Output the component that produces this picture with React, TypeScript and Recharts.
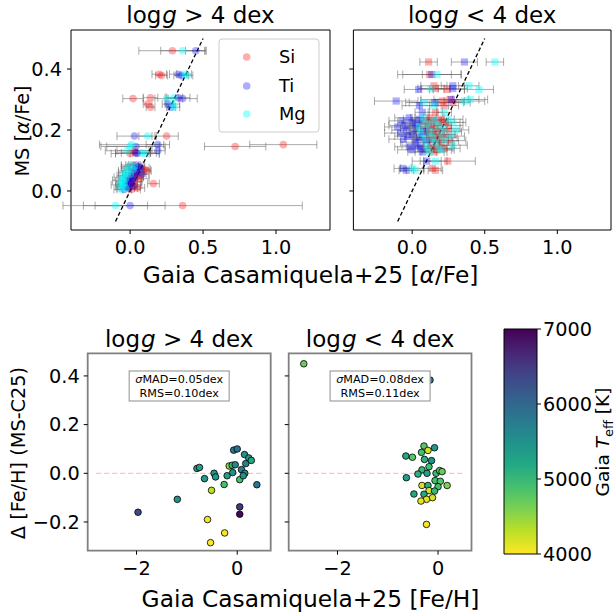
import React from 'react';
import { ScatterChart, Scatter, XAxis, YAxis, ErrorBar, ReferenceLine, ReferenceArea } from 'recharts';

// ---------- data ----------
// top panels: [MS alpha/Fe, Si, SiErr, Ti, TiErr, Mg, MgErr]
const dwarfStars: number[][] = [
  [0.46, 0.29, 0.23, 0.45, 0.07, 0.36, 0.15],
  [0.383, 0.2, 0.05, 0.33, 0.06, 0.37, 0.05],
  [0.379, 0.215, 0.04, 0.35, 0.05, 0.39, 0.04],
  [0.303, 0.02, 0.07, 0.36, 0.1, 0.25, 0.08],
  [0.306, 0.14, 0.05, 0.33, 0.08, 0.3, 0.06],
  [0.285, 0.12, 0.03, 0.26, 0.04, 0.29, 0.05],
  [0.275, 0.14, 0.03, 0.28, 0.03, 0.3, 0.04],
  [0.18, 0.25, 0.08, 0.03, 0.12, 0.12, 0.06],
  [0.146, 0.72, 0.21, 0.04, 0.2, 0.0, 0.2],
  [0.152, 1.05, 0.23, 0.19, 0.08, 0.01, 0.22],
  [0.132, 0.03, 0.12, 0.19, 0.05, -0.02, 0.15],
  [0.123, 0.0, 0.13, 0.05, 0.15, 0.1, 0.1],
  [0.125, 0.04, 0.1, 0.04, 0.14, 0.08, 0.06],
  [0.085, 0.02, 0.05, 0.04, 0.05, 0.0, 0.06],
  [0.08, 0.0, 0.06, 0.06, 0.04, 0.03, 0.05],
  [0.075, 0.05, 0.05, 0.07, 0.06, -0.01, 0.05],
  [0.07, 0.1, 0.04, 0.04, 0.05, 0.02, 0.06],
  [0.066, 0.115, 0.03, 0.01, 0.06, -0.03, 0.05],
  [0.06, 0.03, 0.06, 0.05, 0.05, -0.02, 0.06],
  [0.055, 0.06, 0.05, 0.08, 0.05, 0.0, 0.05],
  [0.05, -0.01, 0.06, 0.03, 0.06, -0.04, 0.05],
  [0.045, 0.04, 0.05, 0.0, 0.05, -0.05, 0.06],
  [0.04, 0.07, 0.06, 0.02, 0.06, -0.03, 0.05],
  [0.035, 0.0, 0.05, -0.02, 0.05, -0.06, 0.06],
  [0.03, 0.02, 0.06, 0.01, 0.06, -0.05, 0.05],
  [0.024, 0.16, 0.04, 0.0, 0.05, -0.04, 0.05],
  [0.02, 0.03, 0.05, -0.03, 0.06, -0.07, 0.06],
  [0.015, -0.02, 0.06, 0.02, 0.05, -0.05, 0.05],
  [0.01, 0.05, 0.05, -0.01, 0.06, -0.03, 0.06],
  [0.005, 0.01, 0.06, -0.04, 0.05, -0.06, 0.05],
  [-0.048, 0.36, 0.82, 0.0, 0.24, -0.1, 0.22],
];

const giantStars: number[][] = [
  [0.423, 0.113, 0.06, 0.36, 0.09, 0.57, 0.06],
  [0.382, 0.12, 0.22, 0.135, 0.2, 0.17, 0.1],
  [0.345, 0.15, 0.09, 0.28, 0.08, 0.39, 0.07],
  [0.333, 0.24, 0.12, 0.045, 0.1, 0.46, 0.1],
  [0.336, 0.16, 0.1, 0.28, 0.1, 0.13, 0.09],
  [0.3, 0.26, 0.2, 0.27, 0.12, 0.4, 0.12],
  [0.295, 0.21, 0.15, -0.11, 0.15, 0.36, 0.14],
  [0.29, 0.28, 0.12, 0.155, 0.2, 0.08, 0.1],
  [0.28, 0.22, 0.1, 0.05, 0.12, 0.15, 0.1],
  [0.258, 0.16, 0.05, 0.07, 0.05, 0.22, 0.05],
  [0.24, 0.12, 0.1, -0.02, 0.1, 0.08, 0.09],
  [0.235, 0.2, 0.09, 0.05, 0.11, 0.25, 0.1],
  [0.23, 0.1, 0.1, -0.07, 0.09, 0.15, 0.1],
  [0.225, 0.22, 0.11, 0.0, 0.1, 0.28, 0.09],
  [0.22, 0.15, 0.09, 0.03, 0.1, 0.1, 0.1],
  [0.215, 0.25, 0.1, -0.05, 0.11, 0.18, 0.09],
  [0.21, 0.08, 0.1, -0.1, 0.09, 0.05, 0.1],
  [0.205, 0.18, 0.09, 0.02, 0.1, 0.22, 0.11],
  [0.2, 0.13, 0.11, -0.04, 0.1, 0.3, 0.09],
  [0.195, 0.24, 0.1, 0.08, 0.09, 0.12, 0.1],
  [0.19, 0.1, 0.09, -0.08, 0.11, 0.06, 0.1],
  [0.185, 0.2, 0.1, 0.0, 0.1, 0.2, 0.09],
  [0.18, 0.16, 0.11, -0.03, 0.09, 0.26, 0.1],
  [0.175, 0.22, 0.09, 0.05, 0.1, 0.14, 0.11],
  [0.17, 0.12, 0.1, -0.06, 0.1, 0.09, 0.09],
  [0.165, 0.26, 0.11, 0.1, 0.09, 0.22, 0.1],
  [0.16, 0.18, 0.1, 0.02, 0.1, 0.16, 0.09],
  [0.15, 0.2, 0.09, 0.04, 0.11, 0.28, 0.1],
  [0.145, 0.14, 0.1, -0.02, 0.1, 0.1, 0.09],
  [0.14, 0.22, 0.11, 0.06, 0.09, 0.18, 0.1],
  [0.135, 0.17, 0.1, 0.0, 0.1, 0.2, 0.09],
  [0.128, 0.15, 0.09, 0.07, 0.1, 0.12, 0.1],
  [0.098, 0.245, 0.19, 0.1, 0.1, 0.16, 0.08],
  [0.074, 0.14, 0.06, -0.065, 0.06, 0.0, 0.08],
  [0.068, 0.16, 0.05, -0.04, 0.05, 0.02, 0.06],
];

// bottom panels: [Gaia Fe/H, delta Fe/H, Teff]
const dwarfFeh: number[][] = [
  [-1.97, -0.16, 6350], [-1.19, -0.107, 5500], [-0.8, 0.02, 5300], [-0.75, 0.024, 5300],
  [-0.65, -0.022, 5400], [-0.59, -0.19, 4050], [-0.53, -0.285, 4000], [-0.51, -0.07, 4300],
  [-0.46, 0.0, 5450], [-0.43, -0.015, 5400], [-0.25, -0.245, 4050], [-0.26, -0.046, 4900],
  [-0.2, -0.01, 5300], [-0.16, 0.03, 4500], [-0.1, 0.033, 5000], [-0.07, 0.095, 5800],
  [0.0, 0.1, 5900], [-0.04, 0.035, 5600], [-0.09, 0.003, 5500], [0.05, -0.026, 4900],
  [0.085, 0.015, 5700], [0.145, 0.077, 5500], [0.17, 0.04, 5700], [0.23, 0.063, 5400],
  [0.28, 0.053, 5200], [0.39, -0.047, 5800], [0.05, -0.138, 6500], [0.05, -0.168, 6950],
  [0.15, 0.0, 5600], [0.12, -0.01, 5500],
];

const giantFeh: number[][] = [
  [-2.67, 0.45, 4700], [-0.16, 0.383, 5700], [-0.64, 0.071, 5200], [-0.51, 0.066, 4800],
  [-0.28, 0.112, 4800], [-0.2, 0.094, 4200], [-0.07, 0.105, 5400], [-0.33, 0.086, 4900],
  [-0.27, 0.057, 5100], [-0.13, 0.052, 5500], [-0.18, 0.027, 4900], [-0.32, 0.014, 5000],
  [-0.4, -0.003, 5100], [-0.22, 0.0, 5300], [-0.04, 0.0, 5000], [0.03, 0.011, 4800],
  [0.08, 0.007, 4700], [-0.63, -0.018, 5300], [-0.06, -0.03, 4900], [0.045, -0.033, 4800],
  [0.18, -0.05, 4600], [-0.32, -0.05, 4200], [-0.2, -0.05, 5100], [0.0, -0.055, 4900],
  [-0.18, -0.071, 4200], [-0.48, -0.085, 5200], [-0.28, -0.086, 5200], [-0.07, -0.073, 5000],
  [-0.11, -0.1, 4200], [-0.23, -0.107, 4100], [-0.34, -0.114, 4100], [-0.23, -0.21, 4050],
];

const topXTicks = [0, 0.5, 1.0];
const topYTicks = [0, 0.2, 0.4];
const botXTicks = [-2, 0];
const botYTicks = [-0.2, 0, 0.2, 0.4];
const cbTicks = [4000, 5000, 6000, 7000];
const oneToOne = [-0.1, 0.5];
const zeroLine = [-2.8, 0.5];
const statsDwarf = ['0.05', '0.10'];
const statsGiant = ['0.08', '0.11'];
const elements = ['Si', 'Ti', 'Mg'];

// ---------- styling ----------
const FONT = 'DejaVu Sans, sans-serif';
const TOPX: [number, number] = [-0.405, 1.37];
const TOPY: [number, number] = [-0.128, 0.528];
const BOTX: [number, number] = [-2.97, 0.665];
const BOTY: [number, number] = [-0.318, 0.493];
const CB: [number, number] = [4000, 7000];
const ELEM_COLORS = ['rgba(255,0,0,0.32)', 'rgba(0,0,255,0.32)', 'rgba(0,255,255,0.4)'];
const VIRIDIS = ['#440154', '#482475', '#414487', '#355f8d', '#2a788e', '#21918c', '#22a884', '#44bf70', '#7ad151', '#bddf26', '#fde725'];

function hex2rgb(h: string) {
  return [parseInt(h.slice(1, 3), 16), parseInt(h.slice(3, 5), 16), parseInt(h.slice(5, 7), 16)];
}
function viridis(t: number) {
  const c = Math.max(0, Math.min(1, t)) * 10;
  const i = Math.min(9, Math.floor(c));
  const f = c - i;
  const a = hex2rgb(VIRIDIS[i]);
  const b = hex2rgb(VIRIDIS[i + 1]);
  const m = a.map((v, k) => Math.round(v + (b[k] - v) * f));
  return `rgb(${m[0]},${m[1]},${m[2]})`;
}
const teffColor = (teff: number) => viridis((CB[1] - teff) / (CB[1] - CB[0]));

const tickStyle = { fontSize: 19.3, fill: '#000', fontFamily: FONT };
const fmt1 = (v: number) => (v < 0 ? '\u2212' : '') + Math.abs(v).toFixed(1);
const fmt0 = (v: number) => (v < 0 ? '\u2212' : '') + String(Math.abs(v));
const blank = () => '';

function elemSeries(stars: number[][], k: number) {
  const col = 1 + 2 * k;
  return stars.map((s) => ({ x: s[col], y: s[0], err: s[col + 1] }));
}
function fehSeries(rows: number[][]) {
  return rows.map((r) => ({ x: r[0], y: r[1], teff: r[2] }));
}

const circleShape = (fill: string) => (p: any) => <circle cx={p.cx} cy={p.cy} r={3.8} fill={fill} />;
const squareShape = (fill: string) => (p: any) => <rect x={p.cx - 3.6} y={p.cy - 3.6} width={7.2} height={7.2} fill={fill} />;
const tempShape = (p: any) => (
  <circle cx={p.cx} cy={p.cy} r={3.3} fill={teffColor(p.payload.teff)} stroke="#000" strokeWidth={0.8} />
);

function AlphaPanel({ stars, left, width, yAxisWidth, right, labels, square }: any) {
  return (
    <div style={{ position: 'absolute', left, top: 0 }}>
      <ScatterChart width={width} height={260} margin={{ top: 30, right, bottom: 0, left: 0 }}>
        <XAxis type="number" dataKey="x" domain={TOPX} allowDataOverflow ticks={topXTicks} interval={0}
          tickFormatter={fmt1} height={30} axisLine={false} stroke="#000" tickSize={4} tickMargin={6} tick={tickStyle} />
        <YAxis type="number" dataKey="y" domain={TOPY} allowDataOverflow ticks={topYTicks} interval={0}
          tickFormatter={labels ? fmt1 : blank} width={yAxisWidth} axisLine={false} stroke="#000" tickSize={4} tickMargin={5} tick={tickStyle} />
        <ReferenceArea x1={TOPX[0]} x2={TOPX[1]} y1={TOPY[0]} y2={TOPY[1]} fill="none" fillOpacity={0} stroke="#000" strokeWidth={1} ifOverflow="visible" />
        {elements.map((el, k) => (
          <Scatter key={el} name={el} data={elemSeries(stars, k)} isAnimationActive={false}
            shape={square ? squareShape(ELEM_COLORS[k]) : circleShape(ELEM_COLORS[k])}>
            <ErrorBar dataKey="err" direction="x" width={4} stroke="#666" strokeOpacity={0.55} strokeWidth={1} />
          </Scatter>
        ))}
        <ReferenceLine segment={[{ x: oneToOne[0], y: oneToOne[0] }, { x: oneToOne[1], y: oneToOne[1] }]}
          stroke="#000" strokeWidth={1.3} strokeDasharray="4 2.5" ifOverflow="visible" />
      </ScatterChart>
    </div>
  );
}

function FehPanel({ rows, left, width, yAxisWidth, right, labels }: any) {
  return (
    <div style={{ position: 'absolute', left, top: 330 }}>
      <ScatterChart width={width} height={251} margin={{ top: 23.3, right, bottom: 0.3, left: 0 }}>
        <XAxis type="number" dataKey="x" domain={BOTX} allowDataOverflow ticks={botXTicks} interval={0}
          tickFormatter={fmt0} height={30} axisLine={false} stroke="#000" tickSize={4} tickMargin={7} tick={tickStyle} />
        <YAxis type="number" dataKey="y" domain={BOTY} allowDataOverflow ticks={botYTicks} interval={0}
          tickFormatter={labels ? fmt1 : blank} width={yAxisWidth} axisLine={false} stroke="#000" tickSize={4} tickMargin={4} tick={tickStyle} />
        <ReferenceArea x1={BOTX[0]} x2={BOTX[1]} y1={BOTY[0]} y2={BOTY[1]} fill="none" fillOpacity={0} stroke="#808080" strokeWidth={1.8} ifOverflow="visible" />
        <ReferenceLine segment={[{ x: zeroLine[0], y: 0 }, { x: zeroLine[1], y: 0 }]}
          stroke="#ffc0cb" strokeWidth={1.3} strokeDasharray="5 3" ifOverflow="visible" />
        <Scatter data={fehSeries(rows)} isAnimationActive={false} shape={tempShape} />
      </ScatterChart>
    </div>
  );
}

function ColorBar() {
  return (
    <div style={{ position: 'absolute', left: 490, top: 300 }}>
      <ScatterChart width={126} height={280} margin={{ top: 29, right: 0, bottom: 26, left: 14 }}>
        <XAxis type="number" dataKey="x" domain={[0, 1]} hide />
        <YAxis type="number" dataKey="y" orientation="right" domain={CB} ticks={cbTicks} interval={0}
          width={79} axisLine={false} stroke="#000" tickSize={4} tickMargin={2} tick={tickStyle} />
        <ReferenceArea x1={0} x2={1} y1={CB[0]} y2={CB[1]} fill="url(#viridisGrad)" fillOpacity={1} stroke="#000" strokeWidth={1} ifOverflow="visible" />
        <Scatter data={cbTicks.map((t) => ({ x: 0.5, y: t }))} isAnimationActive={false} shape={() => <g />} />
      </ScatterChart>
    </div>
  );
}

function Title({ x, y, sym }: { x: number; y: number; sym: string }) {
  return (
    <text x={x} y={y} textAnchor="middle" fontSize={23} fontFamily={FONT} fill="#000">
      log<tspan fontStyle="italic" dx={1}>g</tspan> {sym} 4 dex
    </text>
  );
}

function StatBox({ cx, stats }: { cx: number; stats: string[] }) {
  return (
    <g fontFamily={FONT} fontSize={11.2} fill="#000" textAnchor="middle">
      <rect x={cx - 50} y={371} width={100} height={30} fill="#fff" stroke="#a0a0a0" strokeWidth={1.2} />
      <text x={cx} y={383}><tspan fontStyle="italic">σ</tspan>MAD={stats[0]}dex</text>
      <text x={cx} y={396.5}>RMS={stats[1]}dex</text>
    </g>
  );
}

export default function App() {
  const legendY = [57, 86, 114];
  return (
    <div style={{ position: 'absolute', left: 0, top: 0, width: 616, height: 613, background: '#fff', fontFamily: FONT }}>
      <svg width={0} height={0} style={{ position: 'absolute' }}>
        <defs>
          <linearGradient id="viridisGrad" x1="0" y1="0" x2="0" y2="1">
            {VIRIDIS.map((c, i) => (
              <stop key={i} offset={`${i * 10}%`} stopColor={c} />
            ))}
          </linearGradient>
        </defs>
      </svg>
      <AlphaPanel stars={dwarfStars} left={0} width={340} yAxisWidth={71} right={10} labels square={false} />
      <AlphaPanel stars={giantStars} left={340} width={276} yAxisWidth={13.4} right={5} labels={false} square />
      <FehPanel rows={dwarfFeh} left={0} width={290} yAxisWidth={87.7} right={19.3} labels />
      <FehPanel rows={giantFeh} left={280} width={200} yAxisWidth={8.7} right={8.5} labels={false} />
      <ColorBar />
      <svg width={616} height={613} style={{ position: 'absolute', left: 0, top: 0, pointerEvents: 'none' }}>
        <Title x={200.5} y={23} sym=">" />
        <Title x={482.2} y={23} sym="<" />
        <Title x={179.2} y={346.5} sym=">" />
        <Title x={380.1} y={346.5} sym="<" />
        <text x={310.5} y={283} textAnchor="middle" fontSize={23.3} fontFamily={FONT} fill="#000">
          Gaia Casamiquela+25 [<tspan fontStyle="italic">α</tspan>/Fe]
        </text>
        <text x={310.5} y={606.5} textAnchor="middle" fontSize={23.3} fontFamily={FONT} fill="#000">
          Gaia Casamiquela+25 [Fe/H]
        </text>
        <text transform="translate(28.5,131) rotate(-90)" textAnchor="middle" fontSize={19.3} fontFamily={FONT} fill="#000">
          MS [<tspan fontStyle="italic">α</tspan>/Fe]
        </text>
        <text transform="translate(25,453) rotate(-90)" textAnchor="middle" fontSize={19.3} fontFamily={FONT} fill="#000">
          Δ [Fe/H] (MS-C25)
        </text>
        <text transform="translate(609,442) rotate(-90)" textAnchor="middle" fontSize={18.5} fontFamily={FONT} fill="#000">
          Gaia <tspan fontStyle="italic">T</tspan><tspan fontSize={13} dy={4}>eff</tspan><tspan dy={-4}> [K]</tspan>
        </text>
        <g>
          <rect x={219} y={39} width={100} height={93} rx={3} fill="#fff" fillOpacity={0.8} stroke="#cccccc" strokeWidth={1} />
          {elements.map((el, k) => (
            <g key={el}>
              <circle cx={246.7} cy={legendY[k]} r={3.8} fill={ELEM_COLORS[k]} />
              <text x={279} y={legendY[k] + 6.3} fontSize={17.8} fontFamily={FONT} fill="#000">{el}</text>
            </g>
          ))}
        </g>
        <StatBox cx={179.2} stats={statsDwarf} />
        <StatBox cx={380.1} stats={statsGiant} />
      </svg>
    </div>
  );
}
